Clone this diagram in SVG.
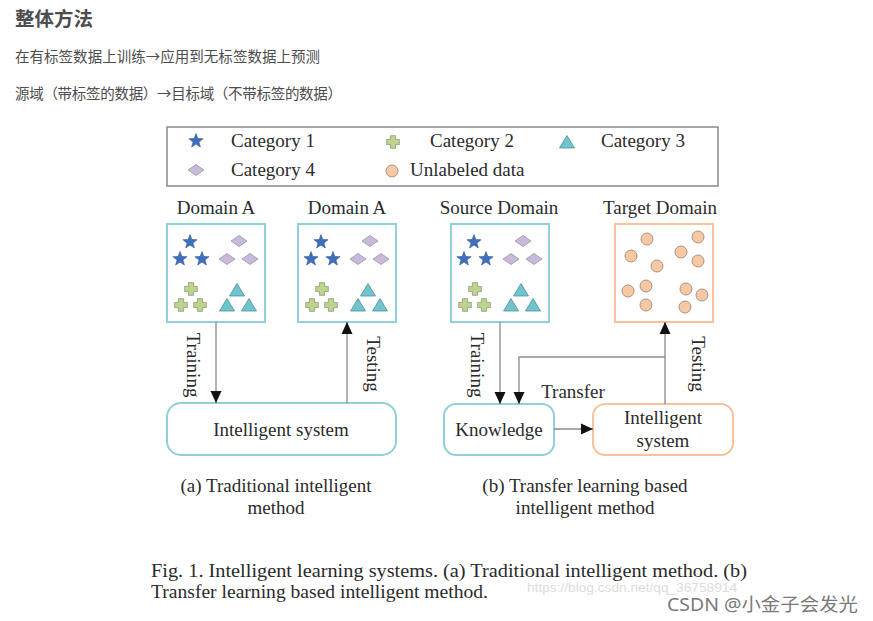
<svg xmlns="http://www.w3.org/2000/svg" xmlns:xlink="http://www.w3.org/1999/xlink" width="873" height="621" viewBox="0 0 873 621">
  <style>
    .cn { font-family: "Noto Sans CJK SC", "Noto Sans", sans-serif; fill: #4d4d4d; }
    .tm { font-family: "Liberation Serif", "Times New Roman", serif; fill: #2b2b2b; font-size: 19px; }
    .box-c { fill: #ffffff; stroke: #8fd0dc; stroke-width: 2; }
    .box-o { fill: #ffffff; stroke: #f7c29c; stroke-width: 2; }
    .wire { fill: none; stroke: #8a8a8a; stroke-width: 1.3; }
    .star { fill: #3d6fbe; stroke: #2d568f; stroke-width: 0.6; }
    .dia { fill: #c9bad9; stroke: #9a92a6; stroke-width: 0.8; }
    .plus { fill: #bcd48e; stroke: #8a9a72; stroke-width: 0.8; stroke-linejoin: round; }
    .tri { fill: #6fc4cd; stroke: #4f8f98; stroke-width: 0.8; }
    .dot { fill: #f8c8a2; stroke: #9a8a80; stroke-width: 0.9; }
  </style>
  <defs>
    <path id="star" class="star" d="M0,-7.5 L1.8,-2.5 L7.1,-2.3 L2.9,1 L4.4,6 L0,3.1 L-4.4,6 L-2.9,1 L-7.1,-2.3 L-1.8,-2.5 Z"/>
    <path id="dia" class="dia" d="M0,-5.5 L8,0 L0,5.5 L-8,0 Z"/>
    <path id="plus" class="plus" d="M-2.6,-6.3 h5.2 v3.7 h3.7 v5.2 h-3.7 v3.7 h-5.2 v-3.7 h-3.7 v-5.2 h3.7 Z"/>
    <path id="tri" class="tri" d="M0,-6.5 L7.5,6 L-7.5,6 Z"/>
    <circle id="dot" class="dot" r="6"/>
    <!-- four labelled classes laid out inside a 98x98 domain box -->
    <g id="labeled">
      <use xlink:href="#star" x="23" y="18"/>
      <use xlink:href="#star" x="13" y="35"/>
      <use xlink:href="#star" x="35" y="35"/>
      <use xlink:href="#dia" x="72" y="17"/>
      <use xlink:href="#dia" x="60" y="35"/>
      <use xlink:href="#dia" x="83" y="35"/>
      <use xlink:href="#plus" x="24" y="65"/>
      <use xlink:href="#plus" x="14" y="81"/>
      <use xlink:href="#plus" x="33" y="81"/>
      <use xlink:href="#tri" x="70" y="66"/>
      <use xlink:href="#tri" x="60" y="81"/>
      <use xlink:href="#tri" x="82" y="81"/>
    </g>
    <marker id="arrow" markerUnits="userSpaceOnUse" markerWidth="12" markerHeight="12" viewBox="0 0 12 12" refX="12" refY="6" orient="auto">
      <path d="M0,0.5 L12,6 L0,11.5 Z" fill="#111"/>
    </marker>
  </defs>

  <rect width="873" height="621" fill="#ffffff"/>

  <!-- page heading and notes -->
  <text class="cn" x="15" y="26" font-size="19.5" font-weight="bold" fill="#333">整体方法</text>
  <text class="cn" x="15" y="62" font-size="14.5" textLength="305" lengthAdjust="spacing">在有标签数据上训练→应用到无标签数据上预测</text>
  <text class="cn" x="15" y="99" font-size="14.5" textLength="327" lengthAdjust="spacing">源域（带标签的数据）→目标域（不带标签的数据）</text>

  <!-- legend -->
  <g id="legend">
    <rect x="167" y="127" width="551" height="59" fill="#fff" stroke="#8a8a8a" stroke-width="1.5"/>
    <use xlink:href="#star" x="196" y="141"/>
    <text class="tm" x="231" y="147" font-size="18.5">Category 1</text>
    <use xlink:href="#plus" x="393" y="142"/>
    <text class="tm" x="430" y="147" font-size="18.5">Category 2</text>
    <use xlink:href="#tri" x="567" y="142"/>
    <text class="tm" x="601" y="147" font-size="18.5">Category 3</text>
    <use xlink:href="#dia" x="196" y="170"/>
    <text class="tm" x="231" y="176" font-size="18.5">Category 4</text>
    <use xlink:href="#dot" x="392" y="171"/>
    <text class="tm" x="410" y="176" font-size="18.5">Unlabeled data</text>
  </g>

  <!-- domain boxes -->
  <g id="domain-a-train">
    <text class="tm" x="216" y="214" text-anchor="middle">Domain A</text>
    <rect class="box-c" x="167" y="224" width="98" height="98"/>
    <use xlink:href="#labeled" x="167" y="224"/>
  </g>
  <g id="domain-a-test">
    <text class="tm" x="347" y="214" text-anchor="middle">Domain A</text>
    <rect class="box-c" x="298" y="224" width="98" height="98"/>
    <use xlink:href="#labeled" x="298" y="224"/>
  </g>
  <g id="source-domain">
    <text class="tm" x="499" y="214" text-anchor="middle">Source Domain</text>
    <rect class="box-c" x="451" y="224" width="98" height="98"/>
    <use xlink:href="#labeled" x="451" y="224"/>
  </g>
  <g id="target-domain">
    <text class="tm" x="660" y="214" text-anchor="middle">Target Domain</text>
    <rect class="box-o" x="615" y="224" width="98" height="98"/>
    <use xlink:href="#dot" x="647" y="239"/>
    <use xlink:href="#dot" x="698" y="237"/>
    <use xlink:href="#dot" x="631" y="256"/>
    <use xlink:href="#dot" x="681" y="252"/>
    <use xlink:href="#dot" x="657" y="266"/>
    <use xlink:href="#dot" x="698" y="261"/>
    <use xlink:href="#dot" x="628" y="291"/>
    <use xlink:href="#dot" x="646" y="286"/>
    <use xlink:href="#dot" x="686" y="289"/>
    <use xlink:href="#dot" x="702" y="295"/>
    <use xlink:href="#dot" x="646" y="305"/>
    <use xlink:href="#dot" x="685" y="307"/>
  </g>

  <!-- system boxes -->
  <g id="intelligent-system-a">
    <rect class="box-c" x="167" y="403" width="229" height="52" rx="14"/>
    <text class="tm" x="281" y="436" text-anchor="middle">Intelligent system</text>
  </g>
  <g id="knowledge">
    <rect class="box-c" x="444" y="404" width="110" height="51" rx="12"/>
    <text class="tm" x="499" y="436" text-anchor="middle">Knowledge</text>
  </g>
  <g id="intelligent-system-b">
    <rect class="box-o" x="593" y="404" width="140" height="51" rx="12"/>
    <text class="tm" x="663" y="424" text-anchor="middle">Intelligent</text>
    <text class="tm" x="663" y="447" text-anchor="middle">system</text>
  </g>

  <!-- connectors -->
  <g id="connectors">
    <line class="wire" x1="216" y1="322" x2="216" y2="403" marker-end="url(#arrow)"/>
    <line class="wire" x1="347" y1="403" x2="347" y2="322" marker-end="url(#arrow)"/>
    <line class="wire" x1="500" y1="322" x2="500" y2="404" marker-end="url(#arrow)"/>
    <path class="wire" d="M665,357 H519 V404" marker-end="url(#arrow)"/>
    <line class="wire" x1="665" y1="404" x2="665" y2="322" marker-end="url(#arrow)"/>
    <line class="wire" x1="554" y1="429" x2="593" y2="429" marker-end="url(#arrow)"/>
    <text class="tm" transform="translate(187,365) rotate(90)" text-anchor="middle" font-size="18.5">Training</text>
    <text class="tm" transform="translate(367,364) rotate(90)" text-anchor="middle" font-size="18.5">Testing</text>
    <text class="tm" transform="translate(471,365) rotate(90)" text-anchor="middle" font-size="18.5">Training</text>
    <text class="tm" transform="translate(692,364) rotate(90)" text-anchor="middle" font-size="18.5">Testing</text>
    <text class="tm" x="573" y="398" text-anchor="middle">Transfer</text>
  </g>

  <!-- sub-captions -->
  <text class="tm" x="276" y="492" text-anchor="middle">(a) Traditional intelligent</text>
  <text class="tm" x="276" y="514" text-anchor="middle">method</text>
  <text class="tm" x="585" y="492" text-anchor="middle">(b) Transfer learning based</text>
  <text class="tm" x="585" y="514" text-anchor="middle">intelligent method</text>

  <!-- figure caption -->
  <text class="tm" x="151" y="577" font-size="20.3" fill="#111" textLength="596" lengthAdjust="spacingAndGlyphs">Fig. 1. Intelligent learning systems. (a) Traditional intelligent method. (b)</text>
  <text class="tm" x="151" y="598" font-size="20.3" fill="#111" textLength="337" lengthAdjust="spacingAndGlyphs">Transfer learning based intelligent method.</text>

  <!-- watermarks -->
  <text x="527" y="592" font-family="Liberation Sans, Arial, sans-serif" font-size="13.5" fill="#dcdcdc" textLength="210" lengthAdjust="spacingAndGlyphs">https://blog.csdn.net/qq_36758914</text>
  <text x="667" y="611" font-family="Noto Sans, Noto Sans CJK SC, sans-serif" font-size="18.5" fill="#7a7a7a" textLength="191" lengthAdjust="spacingAndGlyphs">CSDN @小金子会发光</text>
</svg>
